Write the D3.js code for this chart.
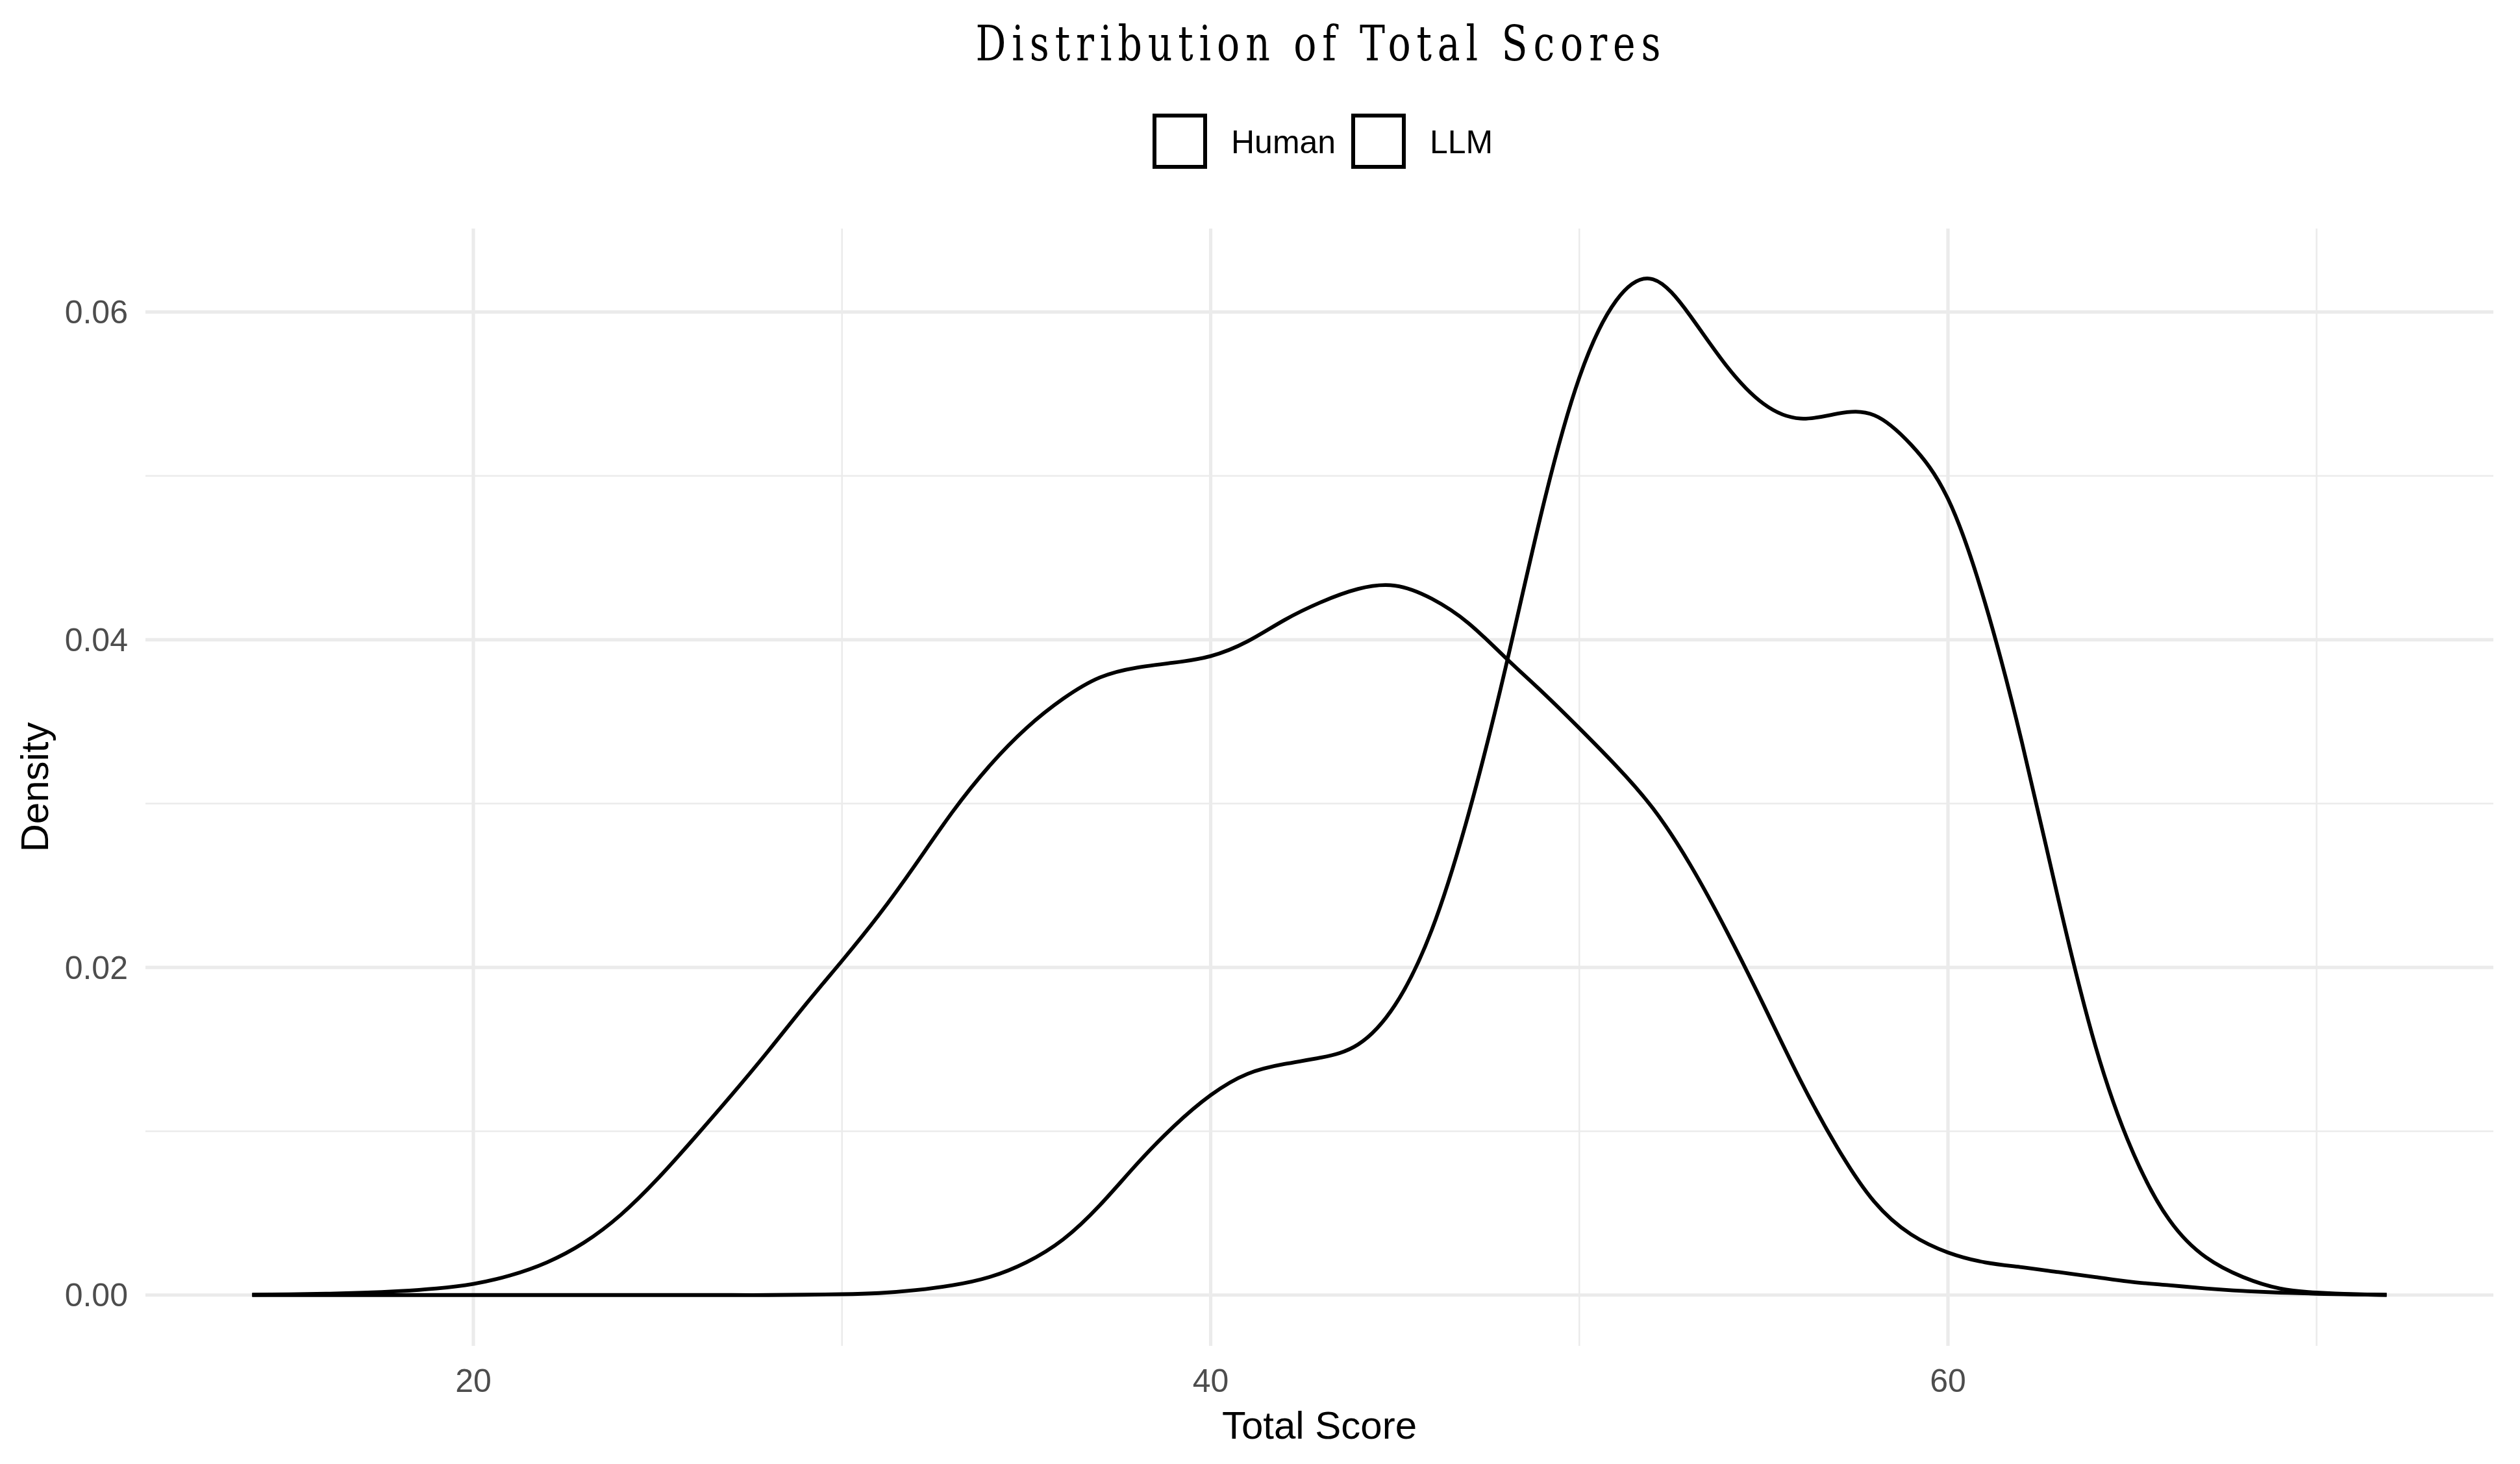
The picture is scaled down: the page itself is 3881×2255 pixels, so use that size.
<!DOCTYPE html>
<meta charset="utf-8">
<style>
  body { margin: 0; background: #ffffff; }
  text { font-family: "Liberation Sans", Arial, sans-serif; }
</style>
<div id="chart"></div>
<script src="https://cdn.jsdelivr.net/npm/d3@7"></script>
<script>

    // data (density estimates on a 1-point grid)
    const scores = [14, 15, 16, 17, 18, 19, 20, 21, 22, 23, 24, 25, 26, 27, 28, 29,
                    30, 31, 32, 33, 34, 35, 36, 37, 38, 39, 40, 41, 42, 43, 44, 45,
                    46, 47, 48, 49, 50, 51, 52, 53, 54, 55, 56, 57, 58, 59, 60, 61,
                    62, 63, 64, 65, 66, 67, 68, 69, 70, 71, 71.9];

    const human = [0.00002, 0.00004, 0.00008, 0.00014, 0.00024, 0.0004, 0.00068, 0.0012,
                   0.0020, 0.0032, 0.0049, 0.0071, 0.0096, 0.0122, 0.0149, 0.0177,
                   0.0204, 0.0232, 0.0263, 0.0295, 0.0323, 0.0346, 0.0364, 0.0377,
                   0.0383, 0.0386, 0.0390, 0.0399, 0.0412, 0.0423, 0.0431, 0.0433,
                   0.0425, 0.0410, 0.0389, 0.0368, 0.0346, 0.0323, 0.0297, 0.0263,
                   0.0222, 0.0177, 0.0131, 0.0090, 0.0057, 0.0037, 0.0026, 0.0020,
                   0.0017, 0.0014, 0.0011, 0.0008, 0.0006, 0.0004, 0.00025, 0.00015,
                   0.00008, 0.00004, 0.00001];

    const llm = [0, 0, 0, 0, 0, 0, 0, 0,
                 0, 0, 0, 0, 0, 0, 0, 0.00002,
                 0.00005, 0.00012, 0.0003, 0.0006, 0.0011, 0.0020, 0.0034, 0.0055,
                 0.0080, 0.0103, 0.0122, 0.0135, 0.0141, 0.0145, 0.0153, 0.0177,
                 0.0223, 0.0294, 0.0383, 0.0480, 0.0560, 0.0607, 0.0620, 0.0598,
                 0.0567, 0.0544, 0.0535, 0.0538, 0.0537, 0.0519, 0.0486, 0.0423,
                 0.0338, 0.0241, 0.0152, 0.0088, 0.0046, 0.0023, 0.0011, 0.0004,
                 0.00015, 0.00005, 0.00001];

    const groups = ["Human", "LLM"];
    const xTicks = [20, 40, 60];
    const yTicks = [0, 0.02, 0.04, 0.06];

    const width = 3881, height = 2255;
    const panel = {left: 224, right: 3840, top: 352, bottom: 2073};

    const series = [human, llm].map((vals, i) => ({
        name: groups[i],
        values: scores.map((s, j) => ({x: s, y: vals[j]}))
    }));

    // ggplot style 5% expansion on both axes
    const xExt = d3.extent(scores);
    const xPad = (xExt[1] - xExt[0]) * 0.05;
    const yMax = d3.max([...human, ...llm]);
    const yPad = yMax * 0.05;

    const x = d3.scaleLinear()
                .domain([xExt[0] - xPad, xExt[1] + xPad])
                .range([panel.left, panel.right]);
    const y = d3.scaleLinear()
                .domain([-yPad, yMax + yPad])
                .range([panel.bottom, panel.top]);

    const xMinor = d3.range(10, 80, 20).filter(v => v > x.domain()[0] && v < x.domain()[1]);
    const yMinor = [0.01, 0.03, 0.05];

    const svg = d3.select("#chart")
                  .append("svg")
                  .attr("width", width)
                  .attr("height", height)
                  .style("display", "block");

    svg.append("rect")
       .attr("width", width)
       .attr("height", height)
       .attr("fill", "#ffffff");

    const grid = svg.append("g").attr("stroke", "#ebebeb");

    grid.selectAll(".xminor")
        .data(xMinor)
        .join("line")
        .attr("x1", d => x(d)).attr("x2", d => x(d))
        .attr("y1", panel.top).attr("y2", panel.bottom)
        .attr("stroke-width", 2.6);

    grid.selectAll(".yminor")
        .data(yMinor)
        .join("line")
        .attr("x1", panel.left).attr("x2", panel.right)
        .attr("y1", d => y(d)).attr("y2", d => y(d))
        .attr("stroke-width", 2.6);

    grid.selectAll(".xmajor")
        .data(xTicks)
        .join("line")
        .attr("x1", d => x(d)).attr("x2", d => x(d))
        .attr("y1", panel.top).attr("y2", panel.bottom)
        .attr("stroke-width", 5.2);

    grid.selectAll(".ymajor")
        .data(yTicks)
        .join("line")
        .attr("x1", panel.left).attr("x2", panel.right)
        .attr("y1", d => y(d)).attr("y2", d => y(d))
        .attr("stroke-width", 5.2);

    const line = d3.line()
                   .x(d => x(d.x))
                   .y(d => y(d.y))
                   .curve(d3.curveNatural);

    svg.append("g")
       .selectAll("path")
       .data(series)
       .join("path")
       .attr("d", d => line(d.values))
       .attr("fill", "none")
       .attr("stroke", "#000000")
       .attr("stroke-width", 5.8)
       .attr("stroke-linejoin", "round");

    // tick labels
    svg.append("g")
       .selectAll("text")
       .data(yTicks)
       .join("text")
       .attr("x", 197)
       .attr("y", d => y(d))
       .attr("dy", "0.35em")
       .attr("text-anchor", "end")
       .attr("fill", "#4d4d4d")
       .style("font-size", "50px")
       .text(d => d3.format(".2f")(d));

    svg.append("g")
       .selectAll("text")
       .data(xTicks)
       .join("text")
       .attr("x", d => x(d))
       .attr("y", 2144)
       .attr("text-anchor", "middle")
       .attr("fill", "#4d4d4d")
       .style("font-size", "50px")
       .text(d => d);

    // axis titles
    const cx = (panel.left + panel.right) / 2;
    const cy = (panel.top + panel.bottom) / 2;

    svg.append("text")
       .attr("x", cx)
       .attr("y", 2216)
       .attr("text-anchor", "middle")
       .style("font-size", "60px")
       .text("Total Score");

    svg.append("text")
       .attr("transform", `translate(74,${cy}) rotate(-90)`)
       .attr("text-anchor", "middle")
       .style("font-size", "60px")
       .text("Density");

    // title
    const titleScale = 0.78;
    svg.append("g")
       .attr("transform", `translate(2030,93) scale(${titleScale},1)`)
       .append("text")
       .attr("text-anchor", "middle")
       .attr("textLength", 1055 / titleScale)
       .attr("lengthAdjust", "spacing")
       .style("font-family", "'DejaVu Serif', serif")
       .style("font-size", "75px")
       .text("Distribution of Total Scores");

    // legend
    const legendItems = [{x: 1778, tx: 1896}, {x: 2084, tx: 2202}];
    const legend = svg.append("g")
                      .selectAll("g")
                      .data(groups)
                      .join("g");

    legend.append("rect")
          .attr("x", (d, i) => legendItems[i].x)
          .attr("y", 178)
          .attr("width", 78)
          .attr("height", 79)
          .attr("fill", "none")
          .attr("stroke", "#000000")
          .attr("stroke-width", 6);

    legend.append("text")
          .attr("x", (d, i) => legendItems[i].tx)
          .attr("y", 236)
          .style("font-size", "50px")
          .text(d => d);

</script>
